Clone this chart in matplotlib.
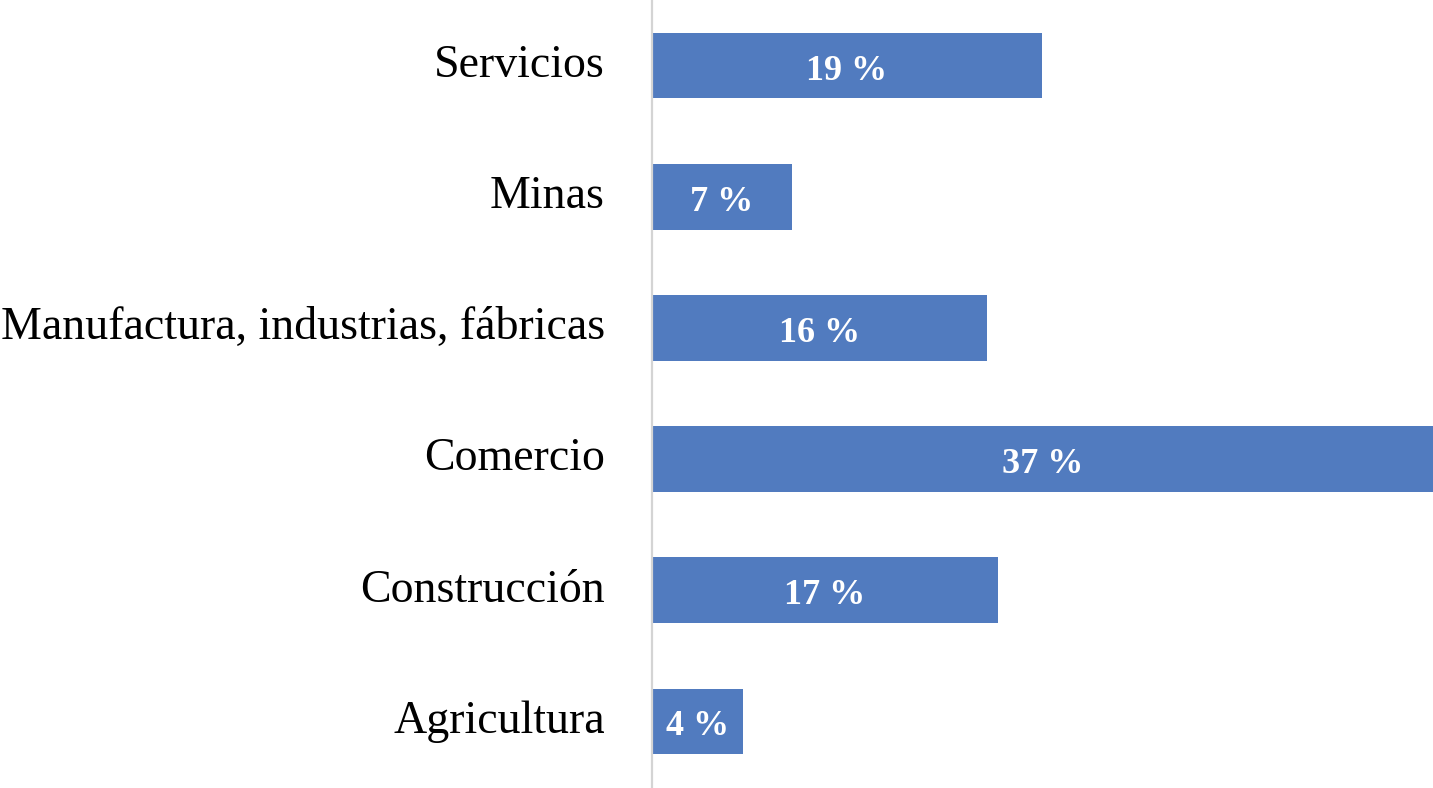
import matplotlib.pyplot as plt
from matplotlib.transforms import ScaledTranslation

# sectors, bottom to top as drawn
sectors = ["Agricultura", "Construcción", "Comercio",
           "Manufactura, industrias, fábricas", "Minas", "Servicios"]
shares = [4.36, 16.55, 37.4, 16.02, 6.71, 18.66]
share_labels = ["4 %", "17 %", "37 %", "16 %", "7 %", "19 %"]

BAR_COLOR = "#517bbf"

plt.rcParams["font.family"] = ["Liberation Serif", "DejaVu Serif"]

fig = plt.figure(figsize=(14.33, 7.88), dpi=100)
ax = fig.add_axes([652 / 1433, 1 / 788, 781 / 1433, 787 / 788])

positions = list(range(len(sectors)))
bars = ax.barh(positions, shares, height=0.5, color=BAR_COLOR)

for bar, text in zip(bars, share_labels):
    ax.text(bar.get_x() + bar.get_width() / 2, bar.get_y() + bar.get_height() / 2 - 0.107,
            text, ha="center", va="baseline", color="white",
            fontsize=26, fontweight="bold")

ax.set_xlim(0, max(shares))
ax.set_ylim(-0.5, len(sectors) - 0.5)
ax.set_yticks(positions)
ax.set_yticklabels(sectors, fontsize=33)
ax.tick_params(axis="y", length=0, pad=34)
ax.set_xticks([])

# nudge category labels up a little
shift = ScaledTranslation(0, 5 / 100, fig.dpi_scale_trans)
for label in ax.get_yticklabels():
    label.set_transform(label.get_transform() + shift)

for side in ["top", "right", "bottom"]:
    ax.spines[side].set_visible(False)
ax.spines["left"].set_color("#d4d4d4")
ax.spines["left"].set_linewidth(1.6)

fig.savefig("out.png", dpi=100)
plt.close(fig)
